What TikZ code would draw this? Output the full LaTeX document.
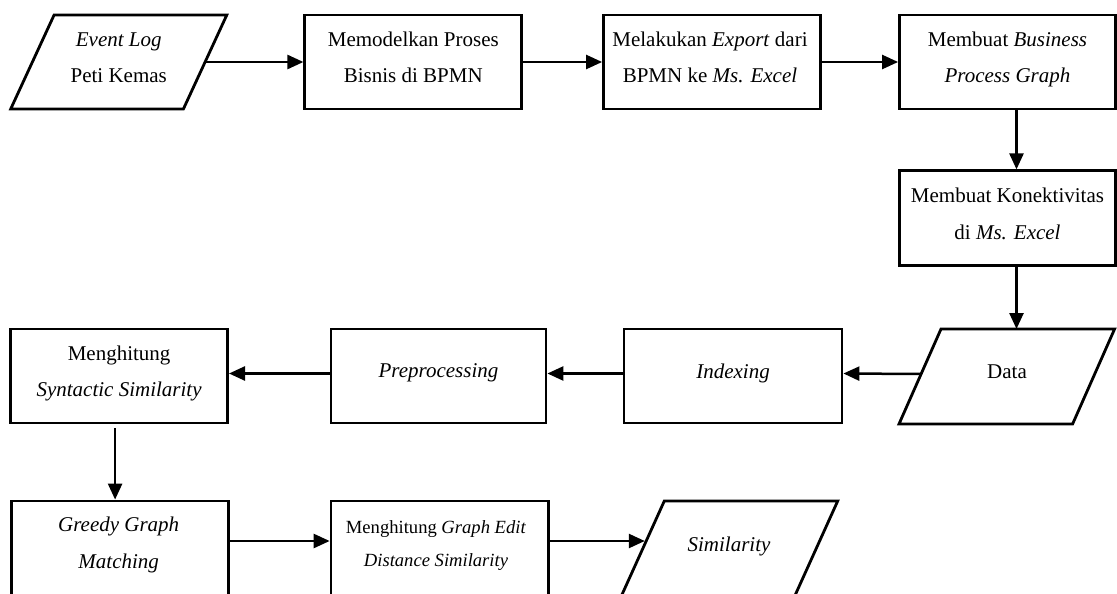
\documentclass[tikz,border=0pt]{standalone}
\usepackage{fontspec}
\setmainfont{Liberation Serif}
\usetikzlibrary{arrows.meta,calc}

% text sizes used in the flowchart
\newcommand\flowfont{\fontsize{21pt}{36.7pt}\selectfont}
\newcommand\flowsmallfont{\fontsize{18.6pt}{33pt}\selectfont}
% outline of a data (parallelogram) node: #1 node name, #2 horizontal slant
\newcommand\iooutline[2]{%
  \draw[outline] ($(#1.north west)+(#2,0)$) -- (#1.north east)
    -- ($(#1.south east)-(#2,0)$) -- (#1.south west) -- cycle;}

\begin{document}
\begin{tikzpicture}[x=1pt,y=-1pt,
  outline/.style={draw, line width=2.8pt, line join=miter},
  procbox/.style={outline, rectangle, minimum width=217pt,
    minimum height=94pt, inner sep=0pt},
  iobox/.style={rectangle, inner sep=0pt, outer sep=0pt},
  txt/.style={inner sep=0pt, anchor=base, font=\flowfont},
  smalltxt/.style={inner sep=0pt, anchor=base, font=\flowsmallfont},
  flow/.style={line width=2.5pt, -{Triangle[length=16pt,width=14pt]}},
]
\fill[white] (0,0) rectangle (1117,594);
\useasboundingbox (0,0) rectangle (1117,594);
\clip (0,0) rectangle (1117,594);

% first row
\node[iobox, minimum width=216.1pt, minimum height=94pt] (log) at (118.75,62) {};
\iooutline{log}{43.4}
\node[txt] (logA) at (118.75,46.5) {\textit{Event Log}};
\node[txt] (logB) at (118.75,83) {Peti Kemas};

\node[procbox] (bpmn) at (413.3,62) {};
\node[txt] (bpmnA) at (413.3,46.5) {Memodelkan Proses};
\node[txt] (bpmnB) at (413.3,83) {Bisnis di BPMN};

\node[procbox] (export) at (712,62) {};
\node[txt] (exportA) at (710,46.5) {Melakukan \textit{Export} dari};
\node[txt] (exportB) at (710,83) {BPMN ke \textit{Ms. Excel}};

\node[procbox, minimum width=216pt] (bpg) at (1007.5,62) {};
\node[txt] (bpgA) at (1007.5,46.5) {Membuat \textit{Business}};
\node[txt] (bpgB) at (1007.5,83) {\textit{Process Graph}};

% right column
\node[procbox, minimum width=216pt, minimum height=95pt] (kon) at (1007.5,218.3) {};
\node[txt] (konA) at (1007.5,202.7) {Membuat Konektivitas};
\node[txt] (konB) at (1007.5,239.2) {di \textit{Ms. Excel}};

% second row
\node[iobox, minimum width=215.6pt, minimum height=95pt] (data) at (1006.8,376.5) {};
\iooutline{data}{42}
\node[txt] (dataA) at (1007,378) {Data};

\node[procbox, minimum width=218pt] (idx) at (733,376) {};
\node[txt] (idxA) at (733,378) {\textit{Indexing}};

\node[procbox, minimum width=215pt] (pre) at (438.5,376) {};
\node[txt] (preA) at (438.5,377.5) {\textit{Preprocessing}};

\node[procbox] (syn) at (119.1,376) {};
\node[txt] (synA) at (119.1,360) {Menghitung};
\node[txt] (synB) at (119.1,396.7) {\textit{Syntactic Similarity}};

% third row (runs past the lower edge)
\node[procbox, minimum width=216.6pt, minimum height=100pt] (greedy) at (120,551) {};
\node[txt] (greedyA) at (118.7,531.7) {\textit{Greedy Graph}};
\node[txt] (greedyB) at (118.7,568) {\textit{Matching}};

\node[procbox, minimum width=217.3pt, minimum height=100pt] (ged) at (439.7,551) {};
\node[smalltxt] (gedA) at (436,533) {Menghitung \textit{Graph Edit}};
\node[smalltxt] (gedB) at (436,566) {\textit{Distance Similarity}};

\node[iobox, minimum width=218.6pt, minimum height=100pt] (sim) at (728.4,551) {};
\iooutline{sim}{45.2}
\node[txt] (simA) at (729,551.7) {\textit{Similarity}};

% connectors
\draw[flow] ($(log.east)+(-20.5,0)$) -- (bpmn.west);
\draw[flow] (bpmn) -- (export);
\draw[flow] (export) -- (bpg);
\draw[flow] ([xshift=9pt]bpg.south) -- ([xshift=9pt]kon.north);
\draw[flow] ([xshift=9pt]kon.south) -- ([xshift=9pt]kon.south |- data.north);
\draw[flow] ($(data.west)+(21.5,-2.5)$) -- ([yshift=2.5pt]idx.east);
\draw[flow] ([yshift=2.5pt]idx.west) -- ([yshift=2.5pt]pre.east);
\draw[flow] ([yshift=2.5pt]pre.west) -- ([yshift=2.5pt]syn.east);
\draw[flow, shorten <=4pt] ([xshift=-4pt]syn.south) -- ([xshift=-4pt]syn.south |- greedy.north);
\draw[flow] ([yshift=10pt]greedy.east) -- ([yshift=10pt]ged.west);
\draw[flow] ([yshift=10pt]ged.east) -- ($(sim.north west)+(25.7,40)$);
\end{tikzpicture}
\end{document}
